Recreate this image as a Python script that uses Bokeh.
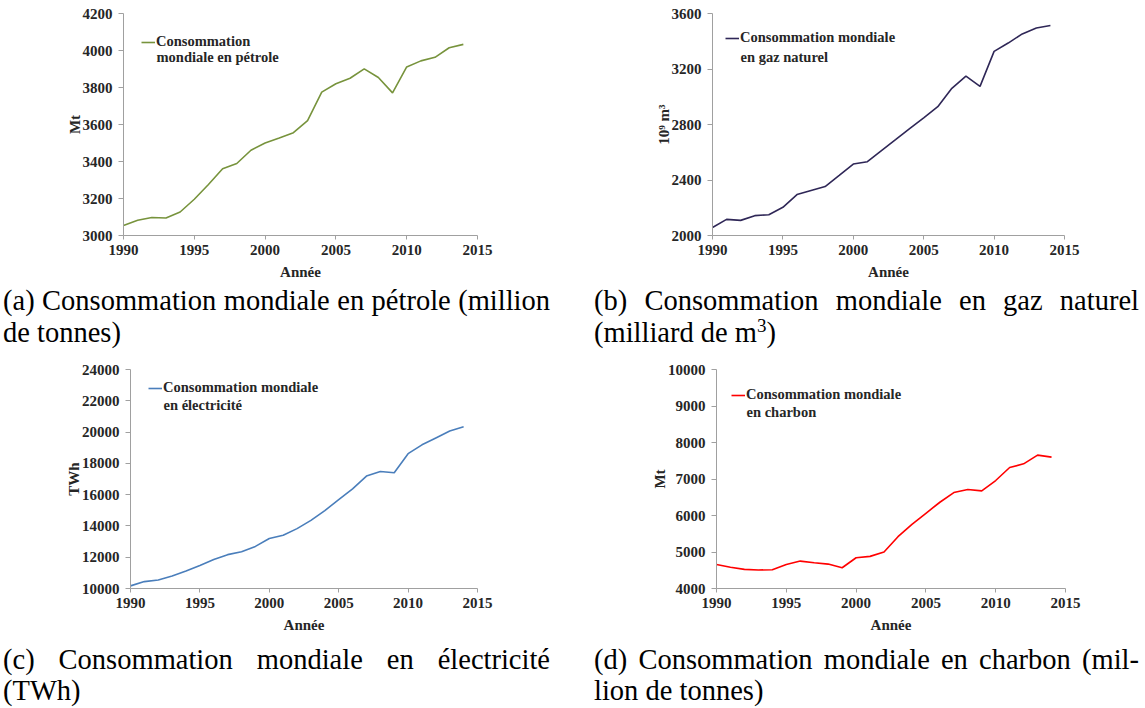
from bokeh.plotting import figure
from bokeh.models import Range1d, FixedTicker, Legend, LegendItem, Label, Div
from bokeh.layouts import column, row
from bokeh.embed import file_html
from bokeh.resources import INLINE

years = list(range(1990, 2015))
oil = [3054, 3082, 3097, 3095, 3127, 3196, 3276, 3361, 3389, 3461, 3500, 3527, 3556,
       3621, 3775, 3820, 3850, 3901, 3854, 3771, 3911, 3944, 3963, 4015, 4033]
gas = [2058, 2116, 2109, 2143, 2150, 2203, 2295, 2324, 2353, 2433, 2515, 2532, 2612,
       2691, 2771, 2848, 2928, 3061, 3148, 3075, 3327, 3387, 3453, 3496, 3513]
elec = [10168, 10441, 10546, 10799, 11114, 11471, 11850, 12165, 12354, 12691, 13195,
        13405, 13826, 14352, 14982, 15676, 16369, 17189, 17483, 17399, 18618, 19185,
        19626, 20067, 20341]
coal = [4660, 4580, 4525, 4505, 4515, 4660, 4751, 4705, 4669, 4568, 4843, 4880, 4999,
        5420, 5759, 6061, 6363, 6628, 6711, 6674, 6958, 7315, 7416, 7654, 7599]

x_ticks = [1990, 1995, 2000, 2005, 2010, 2015]
oil_ticks = [3000, 3200, 3400, 3600, 3800, 4000, 4200]
gas_ticks = [2000, 2400, 2800, 3200, 3600]
elec_ticks = [10000, 12000, 14000, 16000, 18000, 20000, 22000, 24000]
coal_ticks = [4000, 5000, 6000, 7000, 8000, 9000, 10000]

FONT = "Liberation Serif"
TXT = "#262626"
AXIS = "#A0A0A0"
FS = "15px"


def panel(values, color, yt, ylabel, leg1, leg2, w, h, bl, br, bt, bb, lx, ly1, ly2):
    p = figure(width=w, height=h, x_range=Range1d(1990, 2015),
               y_range=Range1d(yt[0], yt[-1]), output_backend="svg",
               toolbar_location=None, min_border_left=bl, min_border_right=br,
               min_border_top=bt, min_border_bottom=bb, margin=0)
    r = p.line(years, values, line_color=color, line_width=1.6)
    p.xgrid.visible = False
    p.ygrid.visible = False
    p.outline_line_color = None
    p.xaxis.ticker = FixedTicker(ticks=x_ticks)
    p.yaxis.ticker = FixedTicker(ticks=yt)
    for ax in (p.xaxis[0], p.yaxis[0]):
        ax.axis_line_color = AXIS
        ax.major_tick_line_color = AXIS
        ax.minor_tick_line_color = None
        ax.major_tick_in = 0
        ax.major_label_text_font = FONT
        ax.major_label_text_font_style = "bold"
        ax.major_label_text_font_size = FS
        ax.major_label_text_color = TXT
        ax.axis_label_text_font = FONT
        ax.axis_label_text_font_style = "bold"
        ax.axis_label_text_font_size = FS
        ax.axis_label_text_color = TXT
    p.yaxis.major_tick_out = 5
    p.yaxis.major_label_standoff = 6
    p.yaxis.axis_label = ylabel
    p.yaxis.axis_label_standoff = -3
    p.xaxis.major_tick_out = 4
    p.xaxis.major_label_standoff = 5
    p.xaxis.axis_label = "Année"
    p.xaxis.axis_label_standoff = 6
    leg = Legend(items=[LegendItem(label=leg1, renderers=[r])], location=(lx, ly1 - 8),
                 padding=0, margin=0, spacing=0, glyph_width=14, glyph_height=16,
                 label_height=16, label_standoff=1, label_text_font=FONT,
                 label_text_font_style="bold", label_text_font_size="14.5px",
                 label_text_color=TXT, border_line_color=None, background_fill_alpha=0)
    p.add_layout(leg)
    p.add_layout(Label(x=lx + 15, y=ly2, x_units="screen", y_units="screen", text=leg2,
                       text_font=FONT, text_font_style="bold", text_font_size="14.5px",
                       text_color=TXT, text_baseline="middle"))
    return p


def caption(l1, l2, w, h, offset, tw, lh, pad):
    html = (f'<div style="font-family:\'Liberation Serif\',serif;font-size:28.5px;'
            f'line-height:{lh}px;color:#000;margin-left:{offset}px;padding-top:{pad}px;'
            f'width:{tw}px;">'
            f'<div style="text-align:justify;text-align-last:justify;">{l1}</div>'
            f'<div style="text-align:left;">{l2}</div></div>')
    return Div(text=html, width=w, height=h, margin=0)


pa = panel(oil, "#77933C", oil_ticks, "Mt", "Consommation", "mondiale en pétrole",
           577, 277, 116, 107, 3, 48, 18, 193, 179)
pb = panel(gas, "#2F2757", gas_ticks, "10⁹ m³", "Consommation mondiale", "en gaz naturel",
           552, 277, 128, 72, 7, 48, 13, 197, 179)
pc = panel(elec, "#4A7EBB", elec_ticks, "TWh", "Consommation mondiale", "en électricité",
           577, 289, 123, 107, 9, 52, 18, 200, 184)
pd = panel(coal, "#FF0000", coal_ticks, "Mt", "Consommation mondiale", "en charbon",
           552, 289, 132, 71, 16, 54, 15, 193, 177)

ca = caption("(a) Consommation mondiale en pétrole (million", "de tonnes)", 577, 70, 0, 547, 32, 2)
cb = caption("(b) Consommation mondiale en gaz naturel",
             "(milliard de m<sup style=\"font-size:19px;line-height:0\">3</sup>)",
             560, 70, 14, 545, 32, 2)
cc = caption("(c) Consommation mondiale en électricité", "(TWh)", 577, 62, 0, 547, 31, 2)
cd = caption("(d) Consommation mondiale en charbon (mil-", "lion de tonnes)", 560, 62, 14, 545, 31, 2)

layout = column(row(pa, pb, margin=(0, 0, 0, 7)), row(ca, cb, margin=(0, 0, 0, 3)),
                row(pc, pd, margin=(0, 0, 0, 7)), row(cc, cd, margin=(0, 0, 0, 3)),
                margin=(6, 0, 0, 0))

open("out.html", "w").write(file_html(layout, INLINE))
